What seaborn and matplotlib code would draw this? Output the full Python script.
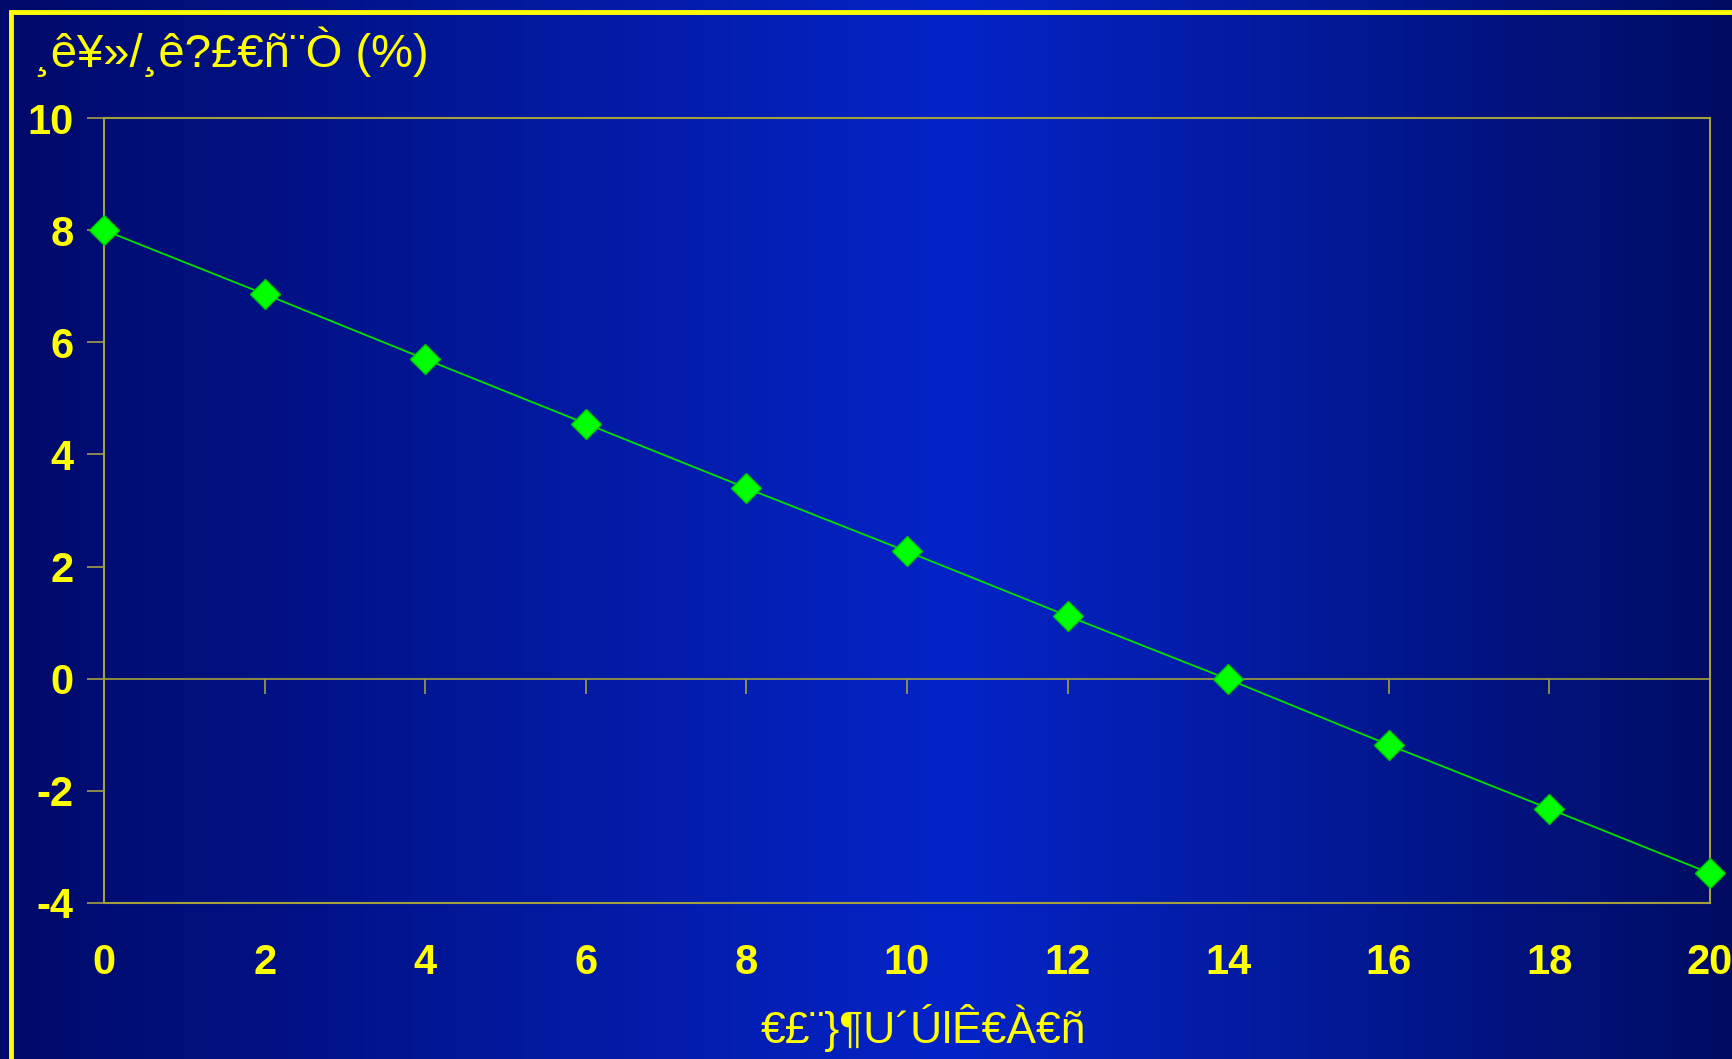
import numpy as np
import pandas as pd
import matplotlib
matplotlib.use("Agg")
import matplotlib.pyplot as plt
from matplotlib.lines import Line2D
import seaborn as sns

# donnees
x_vals = [0, 2, 4, 6, 8, 10, 12, 14, 16, 18, 20]
y_vals = [8.0, 6.86, 5.70, 4.55, 3.40, 2.27, 1.12, -0.01, -1.18, -2.32, -3.47]
x_ticks = [0, 2, 4, 6, 8, 10, 12, 14, 16, 18, 20]
y_ticks = [-4, -2, 0, 2, 4, 6, 8, 10]
y_title = "¸ê¥»/¸ê?£€ñ¨Ò (%)"
x_title = "€£¨}¶U´ÚlÊ€À€ñ"

df = pd.DataFrame({"x": x_vals, "y": y_vals})

sns.set_theme(style="white")
plt.rcParams['font.family'] = ['Liberation Sans', 'DejaVu Sans']
plt.rcParams['axes.unicode_minus'] = False

yellow = "#ffff00"
axis_col = "#a39f3c"

fig = plt.figure(figsize=(17.33, 10.59), dpi=100)

# fond en degrade horizontal
bg = fig.add_axes([0, 0, 1, 1], zorder=-10)
bg.axis("off")
stops = np.array([[0, 10, 105], [5, 36, 200], [0, 12, 98]]) / 255.0
t = np.linspace(0, 1, 400)
grad = np.empty((1, 400, 3))
for c in range(3):
    grad[0, :, c] = np.interp(t, [0, 0.55, 1], stops[:, c])
bg.imshow(grad, aspect="auto", extent=[0, 1, 0, 1])
bg.set_xlim(0, 1)
bg.set_ylim(0, 1)

# cadre jaune (haut et gauche)
fig.add_artist(Line2D([11 / 1733, 11 / 1733], [0, 1 - 10 / 1059], color=yellow, lw=3.5,
                      solid_capstyle="butt"))
fig.add_artist(Line2D([9 / 1733, 1], [1 - 12 / 1059, 1 - 12 / 1059], color=yellow, lw=3.5,
                      solid_capstyle="butt"))

ax = fig.add_axes([104 / 1733, 1 - 903 / 1059, (1710 - 104) / 1733, (903 - 118) / 1059])
ax.patch.set_alpha(0)

sns.lineplot(data=df, x="x", y="y", ax=ax, color="#00e000", lw=1.3,
             marker="D", markersize=15, markerfacecolor="#00ff00",
             markeredgecolor="#00c800", markeredgewidth=1, clip_on=False, zorder=5)

ax.set_xlim(0, 20)
ax.set_ylim(-4, 10)
ax.set_xticks(x_ticks)
ax.set_yticks(y_ticks)
ax.set_xlabel("")
ax.set_ylabel("")

for s in ax.spines.values():
    s.set_color(axis_col)
    s.set_linewidth(1.5)

ax.tick_params(axis="y", left=True, direction="out", length=12, width=1.2, color=axis_col,
               labelsize=30, labelcolor=yellow, pad=10)
ax.tick_params(axis="x", bottom=False, labelsize=30, labelcolor=yellow, pad=23)
for lab in ax.get_xticklabels() + ax.get_yticklabels():
    lab.set_fontweight("bold")

# axe horizontal a y = 0 avec graduations vers le bas
zero_ax = ax.secondary_xaxis(0, transform=ax.transData)
zero_ax.spines["bottom"].set_color(axis_col)
zero_ax.spines["bottom"].set_linewidth(1.2)
zero_ax.set_xticks(x_ticks[1:])
zero_ax.tick_params(axis="x", direction="out", length=11, width=1.2, color=axis_col, labelbottom=False)

fig.text(35 / 1733, 1 - 52 / 1059, y_title, color=yellow, fontsize=34, ha="left", va="center")
fig.text(923 / 1733, 1 - 1028 / 1059, x_title, color=yellow, fontsize=32, ha="center", va="center")

fig.savefig("out.png", dpi=100)
